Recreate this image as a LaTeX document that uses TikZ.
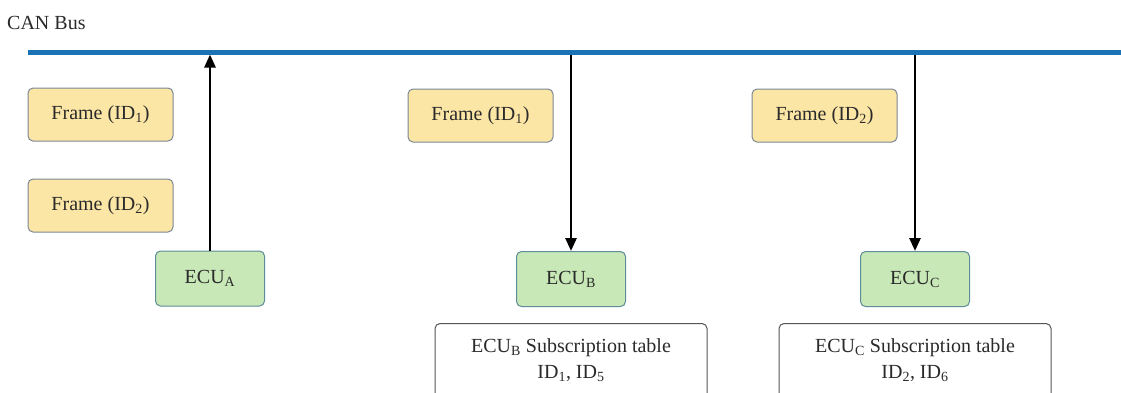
\documentclass[tikz,border=0pt]{standalone}
\usepackage{fontspec}
\setmainfont{Liberation Serif}
\usetikzlibrary{arrows.meta}
\definecolor{busblue}{HTML}{1B72B4}
\definecolor{framefill}{HTML}{FCE6A6}
\definecolor{frameedge}{HTML}{7A8794}
\definecolor{ecufill}{HTML}{C8E8B8}
\definecolor{ecuedge}{HTML}{5E8C97}
\definecolor{txt}{HTML}{2A2A2A}
\definecolor{tabedge}{HTML}{555555}
\tikzset{
  every node/.style={font=\fontsize{20}{26}\selectfont, text=txt},
  framebox/.style={draw=frameedge, fill=framefill, line width=1pt, rounded corners=5pt, minimum width=145pt, minimum height=53pt, inner sep=0pt},
  ecubox/.style={draw=ecuedge, fill=ecufill, line width=1pt, rounded corners=5pt, minimum width=109pt, minimum height=55pt, inner sep=0pt},
  tabbox/.style={draw=tabedge, fill=white, line width=1pt, rounded corners=5pt, minimum width=272pt, minimum height=100pt, anchor=north, inner sep=0pt},
  tabtext/.style={align=center, anchor=base, inner sep=0pt},
  arr/.style={draw=black, line width=2.6pt, -{Triangle[length=13pt, width=11pt]}},
}
\begin{document}
\begin{tikzpicture}[x=1pt, y=-1pt]
\useasboundingbox (0,0) rectangle (1121,392);
\node[anchor=base west, inner sep=0pt, text=txt] (canlabel) at (7,29) {CAN Bus};
\draw[busblue, line width=5pt] (28,52) coordinate (busL) -- (1121,52) coordinate (busR);
\coordinate (busA) at (210,54.5);
\coordinate (busB) at (571,54.5);
\coordinate (busC) at (915,54.5);

\node[framebox] (f1a) at (100.5,114.5) {Frame (ID\textsubscript{1})};
\node[framebox] (f2a) at (100.5,205.5) {Frame (ID\textsubscript{2})};
\node[framebox] (f1b) at (480.5,115.5) {Frame (ID\textsubscript{1})};
\node[framebox] (f2c) at (824.5,115.5) {Frame (ID\textsubscript{2})};

\node[ecubox] (ecuA) at (210,278.5) {ECU\textsubscript{A}};
\node[ecubox] (ecuB) at (571,279) {ECU\textsubscript{B}};
\node[ecubox] (ecuC) at (915,279) {ECU\textsubscript{C}};

\node[tabbox] (tabB) at (571,323) {};
\node[tabbox] (tabC) at (915,323) {};
\node[tabtext] (tabBt) at (571,378) {ECU\textsubscript{B} Subscription table\\ID\textsubscript{1}, ID\textsubscript{5}};
\node[tabtext] (tabCt) at (915,378) {ECU\textsubscript{C} Subscription table\\ID\textsubscript{2}, ID\textsubscript{6}};

\draw[arr] (ecuA.north) -- (busA);
\draw[arr] (busB) -- (ecuB.north);
\draw[arr] (busC) -- (ecuC.north);
\end{tikzpicture}
\end{document}
